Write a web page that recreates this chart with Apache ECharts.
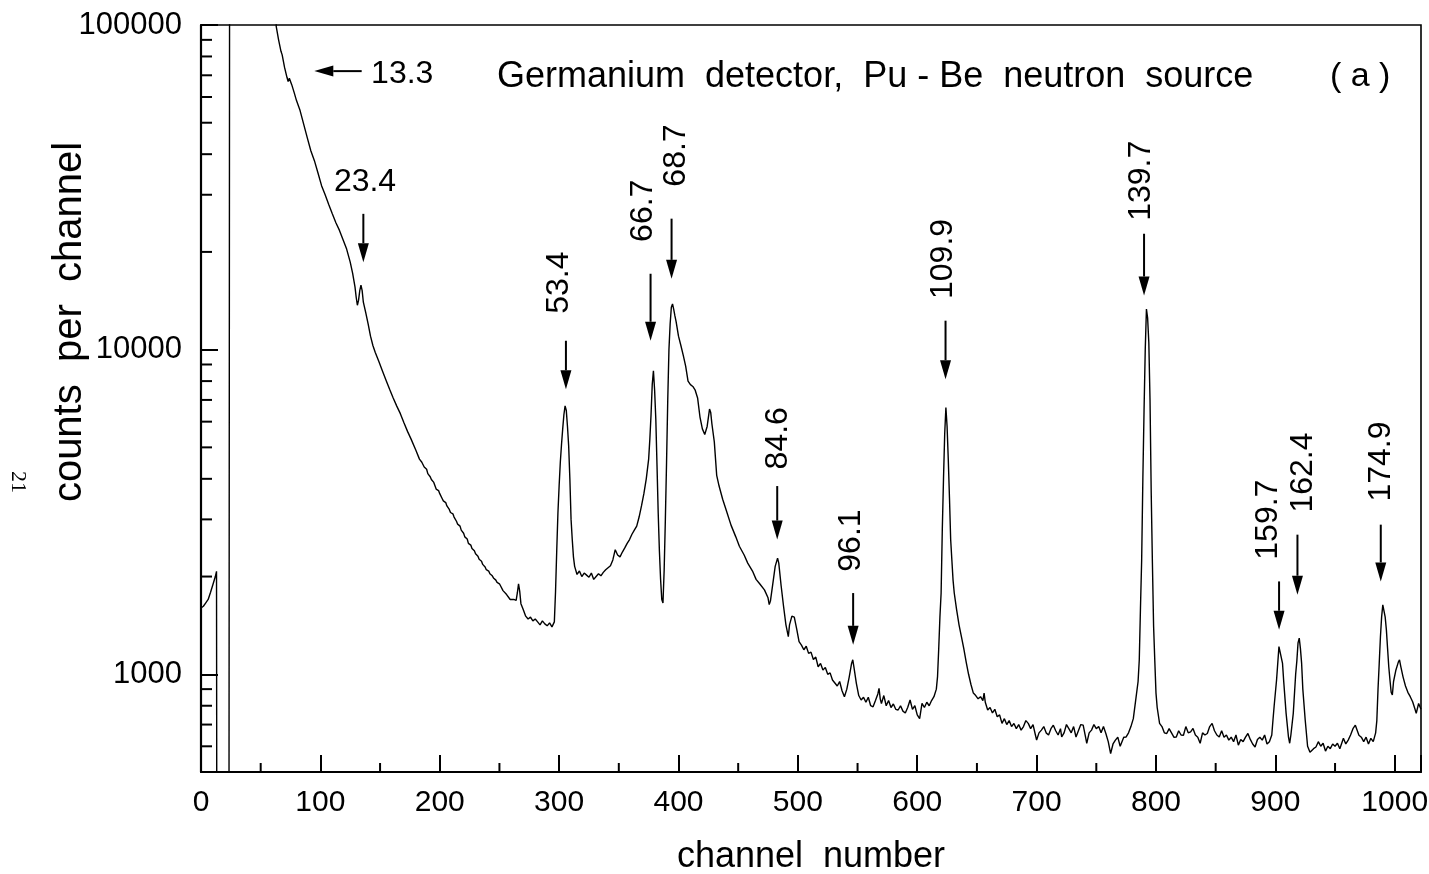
<!DOCTYPE html>
<html><head><meta charset="utf-8">
<script src="https://cdn.jsdelivr.net/npm/echarts@6/dist/echarts.min.js"></script>
<style>html,body{margin:0;padding:0;background:#fff}#c{width:1429px;height:874px}</style>
</head><body><div id="c"></div>
<script>
// spectrum: [channel, counts per channel] (1 = empty channel, 300000 = off-scale)
const spectrum = [
[0,1600],[2,1620],[4,1660],[5,1640],[6,1700],[8,1790],[10,1890],[12,2000],[13,2075],[14,1],[23,1],[24,300000],[62,300000],
[63,99000],[65,90000],[67,83000],[68,80900],[70,74000],[72,69000],[73,67000],[74,68500],[75,68000],[76,65500],[78,62000],
[80,58500],[83,54500],[86,49500],[89,45000],[92,41000],[95,38200],[98,35000],[101,32000],[104,30000],[107,28000],[110,26200],
[113,24600],[116,23300],[119,21800],[122,20400],[125,18600],[127,17200],[129,15600],[130,14500],[131,13700],[132,14200],
[133,15200],[134,15800],[135,15200],[136,14000],[138,13000],[140,12000],[142,11000],[144,10300],[146,9800],[149,9200],
[152,8600],[155,8050],[158,7550],[161,7100],[164,6700],[167,6350],[170,5950],[173,5600],[176,5300],[180,4900],[183,4600],
[185,4500],[187,4350],[189,4280],[190,4150],[192,4060],[193,3980],[195,3900],[197,3720],[199,3680],[200,3600],[202,3480],
[203,3420],[205,3380],[206,3300],[208,3220],[209,3150],[211,3120],[212,3050],[214,2960],[215,2900],[217,2860],[218,2780],
[220,2720],[221,2650],[223,2610],[224,2530],[226,2500],[227,2440],[229,2400],[230,2350],[232,2310],[233,2260],[235,2230],
[236,2180],[238,2140],[239,2100],[241,2080],[242,2040],[244,2010],[245,1980],[247,1950],[248,1920],[250,1900],[251,1870],
[253,1810],[254,1790],[256,1760],[257,1740],[259,1700],[260,1720],[262,1700],[264,1690],[265,1780],[266,1900],[267,1800],
[268,1650],[270,1580],[272,1510],[274,1480],[276,1500],[278,1460],[280,1480],[282,1450],[284,1420],[286,1460],[288,1430],
[290,1410],[292,1440],[294,1400],[295,1390],[296,1450],[297,1800],[298,2400],[299,3140],[300,3800],[301,4500],[302,5100],
[303,5700],[304,6300],[305,6710],[306,6500],[307,5800],[308,5050],[309,4000],[310,3000],[311,2600],[312,2300],[313,2150],
[315,2030],[317,2080],[319,2000],[321,2050],[323,2020],[325,1990],[327,2050],[329,1960],[331,2000],[333,2040],[335,2010],
[337,2060],[339,2100],[341,2130],[343,2160],[345,2250],[347,2420],[349,2330],[351,2300],[353,2380],[355,2450],[357,2530],
[359,2600],[361,2700],[363,2780],[365,2860],[367,3050],[369,3300],[371,3600],[373,4000],[375,4600],[376,5300],[377,6300],
[378,7800],[379,8610],[380,7500],[381,6100],[382,4400],[383,3140],[384,2400],[385,1960],[386,1700],[387,1657],[388,2100],
[389,3000],[390,4500],[391,7000],[392,10000],[393,12000],[394,13500],[395,13830],[396,13300],[397,12700],[398,12200],
[400,11000],[402,10300],[404,9600],[406,8900],[408,8000],[410,7800],[412,7700],[414,7500],[416,7100],[418,6200],[420,5700],
[422,5480],[424,5800],[426,6560],[427,6400],[428,5900],[430,5200],[432,4100],[434,3800],[437,3460],[440,3200],[444,2880],
[448,2650],[451,2480],[455,2330],[458,2200],[462,2080],[465,1960],[468,1900],[472,1820],[475,1720],[476,1640],[477,1680],
[479,1900],[481,2150],[483,2280],[484,2200],[486,1870],[488,1620],[490,1420],[492,1306],[493,1420],[495,1510],[497,1500],
[499,1380],[501,1260],[503,1230],[505,1190],[507,1220],[509,1160],[511,1170],[513,1110],[515,1130],[517,1055],[519,1080],
[521,1030],[523,1050],[525,1000],[527,1010],[529,960],[531,940],[533,920],[535,950],[537,890],[539,853],[541,900],[543,980],
[545,1080],[546,1108],[547,1050],[549,938],[551,860],[553,833],[555,850],[557,820],[559,850],[561,800],[563,794],[565,830],
[567,870],[568,905],[569,840],[570,813],[572,860],[574,800],[576,830],[578,790],[580,810],[582,780],[584,776],[586,800],
[588,770],[590,760],[592,790],[594,833],[596,780],[598,800],[600,750],[602,730],[604,813],[606,790],[608,820],[610,800],
[612,830],[614,853],[616,900],[617,983],[618,1200],[619,1500],[620,1780],[621,2800],[622,4000],[623,5500],[624,6630],
[625,5800],[626,4590],[627,3500],[628,2600],[629,2250],[630,1950],[631,1780],[633,1580],[635,1420],[637,1306],[639,1200],
[641,1090],[643,1000],[645,930],[647,875],[649,860],[651,840],[653,853],[655,830],[656,875],[657,820],[659,776],[661,790],
[663,760],[665,780],[667,740],[669,750],[671,706],[673,730],[675,700],[677,720],[679,690],[681,705],[683,680],[685,700],
[687,673],[689,690],[691,720],[693,706],[695,680],[697,700],[699,650],[700,627],[702,660],[704,673],[706,690],[708,660],
[710,650],[712,680],[714,697],[716,670],[718,650],[720,680],[721,641],[723,660],[725,700],[727,680],[729,660],[731,690],
[733,641],[735,670],[737,700],[739,697],[741,640],[742,613],[744,660],[746,673],[748,700],[750,680],[752,690],[754,660],
[756,690],[758,657],[760,620],[762,570],[764,610],[766,627],[768,640],[770,600],[771,597],[773,640],[775,641],[777,660],
[779,690],[781,730],[783,833],[785,950],[786,1108],[787,1600],[788,2250],[789,4000],[790,6500],[791,10000],[792,13340],
[793,12500],[794,10500],[795,7000],[796,3620],[797,2200],[798,1403],[799,1100],[800,875],[801,790],[803,706],[805,690],
[807,660],[809,657],[811,680],[813,660],[815,640],[817,641],[819,670],[821,650],[823,649],[825,690],[827,660],[829,665],
[831,681],[833,650],[835,640],[837,613],[839,660],[841,650],[843,657],[845,690],[847,706],[849,670],[851,650],[853,641],
[855,670],[857,640],[859,650],[861,627],[863,640],[865,620],[867,650],[869,605],[871,630],[873,620],[875,640],[877,657],
[879,630],[881,610],[883,597],[885,630],[887,640],[889,627],[891,650],[893,610],[895,620],[897,650],[898,723],[899,800],
[901,960],[903,1217],[904,1200],[906,1080],[907,950],[909,758],[911,640],[912,613],[913,650],[915,758],[917,1000],[918,1100],
[919,1250],[920,1292],[921,1200],[922,1080],[923,900],[925,723],[927,600],[929,575],[930,570],[932,590],[934,597],[936,620],
[938,600],[940,613],[942,580],[944,600],[946,590],[948,610],[950,600],[952,613],[954,590],[956,620],[957,635],[959,610],
[961,627],[963,650],[965,680],[967,697],[968,690],[970,649],[972,640],[974,620],[976,640],[978,610],[980,635],[982,620],
[984,660],[985,720],[986,900],[987,1080],[988,1300],[989,1500],[990,1637],[991,1620],[992,1500],[993,1370],[994,1200],
[995,1055],[996,960],[997,880],[998,863],[999,950],[1001,1031],[1003,1090],[1004,1108],[1005,1060],[1007,980],[1009,920],
[1011,880],[1013,853],[1015,823],[1017,780],[1018,758],[1020,813],[1022,780]
];

const xMin = 0, xMax = 1022, yMin = 500, yMax = 100000;
const xTickLabels = ['0','100','200','300','400','500','600','700','800','900','1000'];
const yTickLabels = ['1000','10000','100000'];
const xMinorTicks = [50,150,250,350,450,550,650,750,850,950];
const yMinorTicks = [600,700,800,900,2000,3000,4000,5000,6000,7000,8000,9000,20000,30000,40000,50000,60000,70000,80000,90000];

// peak annotations (energies in keV) : arrow start, arrow tip, label anchor, in data coordinates
const peakLabels  = ['13.3','23.4','53.4','66.7','68.7','84.6','96.1','109.9','139.7','159.7','162.4','174.9'];
const arrowStart  = [[134.6,72100],[136,26200],[305.7,10650],[376.6,17130],[394.2,25320],[482.7,3800],[546.3,1779],[623.7,12280],[790,22750],[903.1,1932],[918.5,2692],[988.3,2890]];
const arrowTip    = [[94.9,72100],[136,18600],[305.7,7550],[376.6,10650],[394.2,16520],[482.7,2600],[546.3,1232],[623.7,8110],[790,14680],[903.1,1371],[918.5,1758],[988.3,1932]];
const labelAnchor = [[142.5,70400],[137.4,32900],[299.8,12890],[370.4,21470],[398.4,31770],[483.5,4277],[545,2070],[621.7,14320],[787.9,24940],[893.9,2254],[923.2,3148],[988.9,3405]];
const labelVertical = [false,false,true,true,true,true,true,true,true,true,true,true];

const FONT = '"Liberation Sans", Arial, Helvetica, sans-serif';
const chart = echarts.init(document.getElementById('c'), null, {renderer:'canvas'});

function isDecade(v){ const l = Math.log10(v); return Math.abs(l - Math.round(l)) < 1e-6; }

chart.setOption({
  backgroundColor:'#fff',
  animation:false,
  grid:{left:201, top:25, right:8, bottom:102, show:true, borderColor:'#000', borderWidth:1.6,
        backgroundColor:'transparent', containLabel:false, outerBoundsMode:'none'},
  xAxis:{
    type:'value', min:xMin, max:xMax, interval:100,
    name:'channel  number', nameLocation:'middle', nameGap:67,
    nameTextStyle:{fontFamily:FONT, fontSize:36, color:'#000'},
    axisLine:{show:true, onZero:false, lineStyle:{color:'#000', width:2.2}},
    axisTick:{show:true, inside:true, length:17, lineStyle:{color:'#000', width:2}},
    axisLabel:{margin:16, fontFamily:FONT, fontSize:30, color:'#000',
      formatter:v => (v % 100 === 0 && xTickLabels.indexOf(String(v))>=0) ? String(v) : ''},
    splitLine:{show:false}
  },
  yAxis:{
    type:'log', logBase:10, min:yMin, max:yMax,
    axisLine:{show:true, lineStyle:{color:'#000', width:2.2}},
    axisTick:{show:true, inside:true, length:17, lineStyle:{color:'#000', width:2}},
    axisLabel:{margin:19, fontFamily:FONT, fontSize:31, color:'#000',
      formatter:v => { if(!isDecade(v)) return ''; const s = String(Math.round(v)); return yTickLabels.indexOf(s)>=0 ? s : ''; }},
    splitLine:{show:false}
  },
  graphic:[
    {type:'text', x:497, y:77, style:{text:'Germanium  detector,  Pu - Be  neutron  source', font:'36px '+FONT, fill:'#000', align:'left', verticalAlign:'middle'}},
    {type:'text', x:1330, y:77, style:{text:'( a )', font:'34px '+FONT, fill:'#000', align:'left', verticalAlign:'middle'}},
    {type:'text', x:70, y:322, rotation:Math.PI/2, style:{text:'counts  per  channel', font:'40px '+FONT, fill:'#000', align:'center', verticalAlign:'middle'}},
    {type:'text', x:18, y:482, rotation:-Math.PI/2, style:{text:'21', font:'22px "Liberation Serif", "DejaVu Serif", serif', fill:'#000', align:'center', verticalAlign:'middle'}}
  ],
  series:[
    {
      type:'line', data:spectrum, showSymbol:false, symbol:'none', clip:true,
      lineStyle:{color:'#000', width:1.4}, silent:true, z:3
    },
    {
      type:'custom', coordinateSystem:'cartesian2d', silent:true, clip:false, z:4,
      data:yMinorTicks.map(v => [xMin, v]),
      renderItem:(params, api) => {
        const p = api.coord([api.value(0), api.value(1)]);
        return {type:'line', shape:{x1:p[0], y1:p[1], x2:p[0]+11, y2:p[1]}, style:{stroke:'#000', lineWidth:2}};
      }
    },
    {
      type:'custom', coordinateSystem:'cartesian2d', silent:true, clip:false, z:4,
      data:xMinorTicks.map(c => [c, yMin]),
      renderItem:(params, api) => {
        const p = api.coord([api.value(0), api.value(1)]);
        return {type:'line', shape:{x1:p[0], y1:p[1], x2:p[0], y2:p[1]-9}, style:{stroke:'#000', lineWidth:2}};
      }
    },
    {
      type:'custom', coordinateSystem:'cartesian2d', silent:true, clip:false, z:5,
      data:arrowStart.map((s,i) => [s[0], s[1], arrowTip[i][0], arrowTip[i][1]]),
      encode:{x:[0,2], y:[1,3]},
      renderItem:(params, api) => {
        const p1 = api.coord([api.value(0), api.value(1)]);
        const p2 = api.coord([api.value(2), api.value(3)]);
        const dx = p2[0]-p1[0], dy = p2[1]-p1[1], len = Math.hypot(dx,dy);
        const ux = dx/len, uy = dy/len, hl = 19, hw = 5.5;
        const bx = p2[0]-ux*hl, by = p2[1]-uy*hl;
        return {type:'group', children:[
          {type:'line', shape:{x1:p1[0], y1:p1[1], x2:bx, y2:by}, style:{stroke:'#000', lineWidth:2}},
          {type:'polygon', shape:{points:[[p2[0],p2[1]],[bx-uy*hw,by+ux*hw],[bx+uy*hw,by-ux*hw]]}, style:{fill:'#000'}}
        ]};
      }
    },
    {
      type:'custom', coordinateSystem:'cartesian2d', silent:true, clip:false, z:5,
      data:labelAnchor.map(a => [a[0], a[1]]),
      renderItem:(params, api) => {
        const i = params.dataIndex;
        const p = api.coord([api.value(0), api.value(1)]);
        const vert = labelVertical[i];
        return {type:'text', x:p[0], y:p[1], rotation: vert ? Math.PI/2 : 0,
          style:{text:peakLabels[i], font:'32px '+FONT, fill:'#000',
            align: vert ? 'left' : (i === 0 ? 'left' : 'center'), verticalAlign:'middle'}};
      }
    }
  ]
});
</script>
</body></html>
